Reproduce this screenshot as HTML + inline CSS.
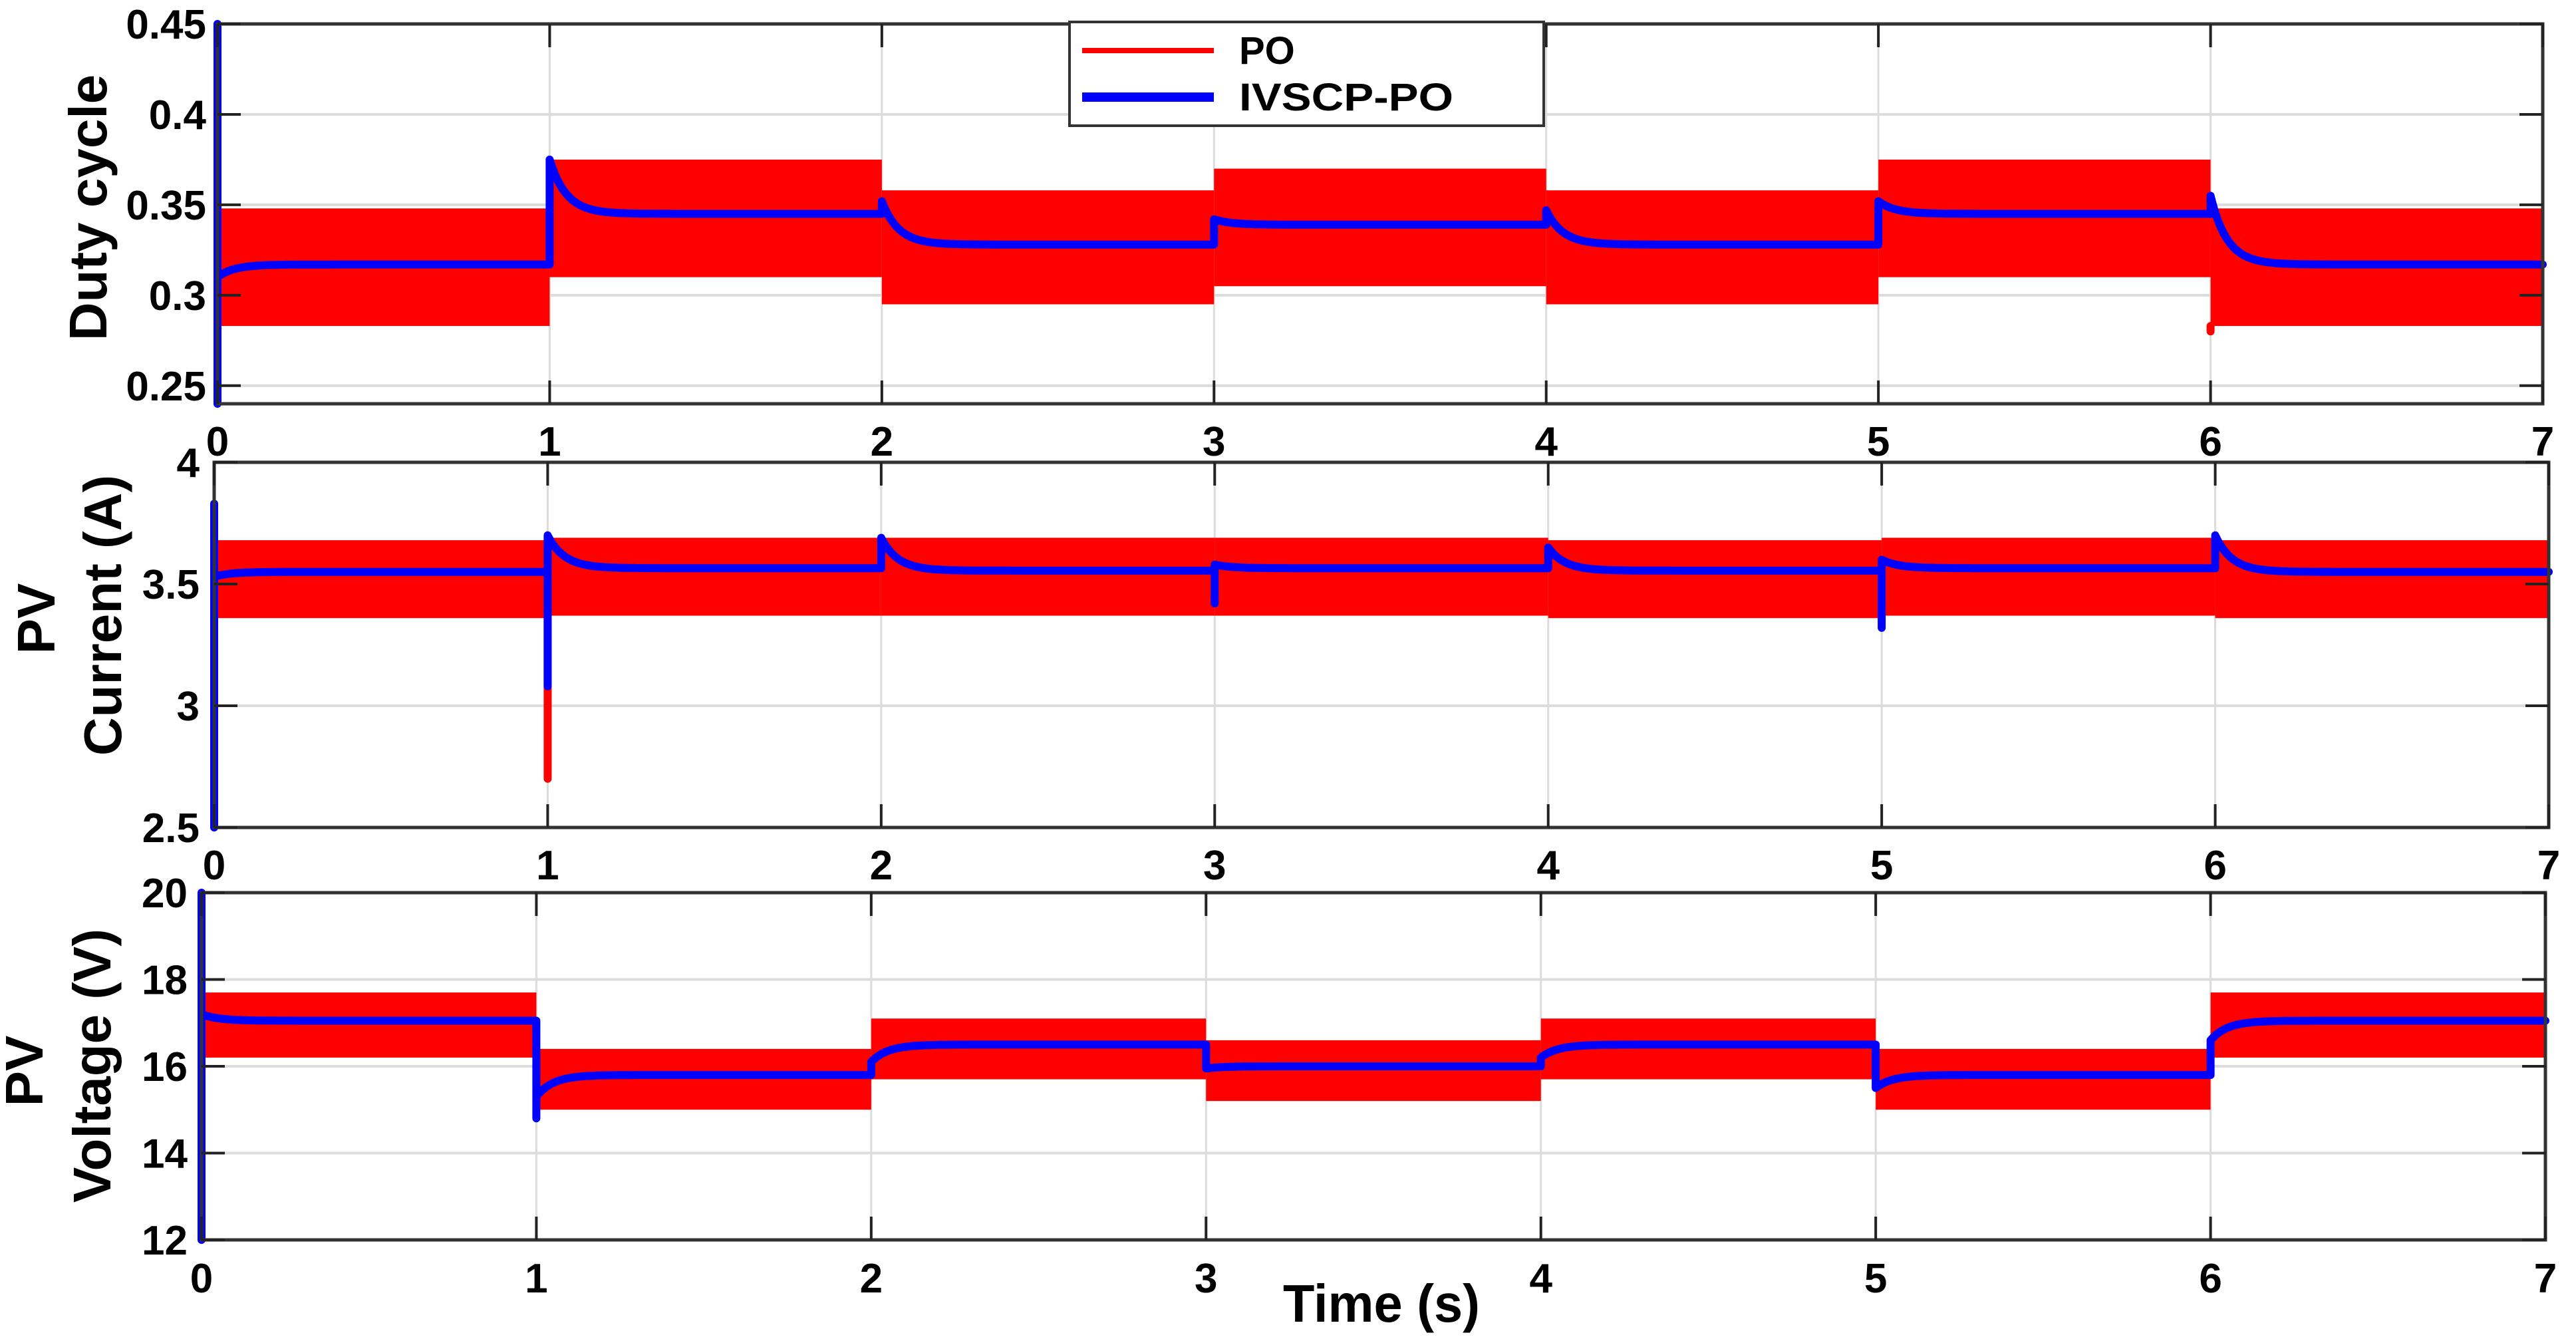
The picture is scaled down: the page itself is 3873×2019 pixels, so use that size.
<!DOCTYPE html>
<html><head><meta charset="utf-8"><style>
html,body{margin:0;padding:0;background:#fff;}
svg{display:block;font-family:"Liberation Sans",Arial,sans-serif;font-weight:bold;}
</style></head><body>
<svg id="fig" width="3873" height="2019" viewBox="0 0 3873 2019" xmlns="http://www.w3.org/2000/svg">
<rect width="3873" height="2019" fill="#fff"/>
</svg>
<script>
// ---- shared x data ----
const xTicks = [0,1,2,3,4,5,6,7];
const xTickLabels = ["0","1","2","3","4","5","6","7"];

// ---- Duty cycle panel ----
const dutyTicks = [0.25,0.3,0.35,0.4,0.45];
const dutyTickLabels = ["0.25","0.3","0.35","0.4","0.45"];
const dutyRedLo = [0.283,0.310,0.295,0.305,0.295,0.310,0.283];
const dutyRedHi = [0.348,0.375,0.358,0.370,0.358,0.375,0.348];
const dutySteady = [0.317,0.345,0.328,0.339,0.328,0.345,0.317];
const dutyStart  = [0.310,0.375,0.352,0.342,0.347,0.352,0.355];
const dutySpikeA = [0.45,null,null,null,null,null,null];
const dutySpikeB = [0.24,null,null,null,null,null,null];
const dutyRedSpike = [null,null,null,null,null,null,0.280];

// ---- PV current panel ----
const curTicks = [2.5,3,3.5,4];
const curTickLabels = ["2.5","3","3.5","4"];
const curRedLo = [3.36,3.37,3.37,3.37,3.36,3.37,3.36];
const curRedHi = [3.68,3.69,3.69,3.69,3.68,3.69,3.68];
const curSteady = [3.55,3.565,3.555,3.565,3.555,3.565,3.55];
const curStart  = [3.53,3.70,3.69,3.58,3.65,3.60,3.70];
const curSpikeA = [3.83,3.08,null,3.42,null,3.32,null];
const curSpikeB = [2.5,null,null,null,null,null,null];
const curRedSpike = [null,2.70,null,null,null,null,null];

// ---- PV voltage panel ----
const voltTicks = [12,14,16,18,20];
const voltTickLabels = ["12","14","16","18","20"];
const voltRedLo = [16.2,15.0,15.7,15.2,15.7,15.0,16.2];
const voltRedHi = [17.7,16.4,17.1,16.6,17.1,16.4,17.7];
const voltSteady = [17.05,15.8,16.5,16.0,16.5,15.8,17.05];
const voltStart  = [17.2,15.3,16.1,15.95,16.2,15.5,16.6];
const voltSpikeA = [20,14.8,null,null,null,null,null];
const voltSpikeB = [12,null,null,null,null,null,null];
const voltRedSpike = [null,null,null,null,null,null,null];

const NS = "http://www.w3.org/2000/svg";
const svg = document.getElementById('fig');
function mk(tag, attrs, parent){
  const e = document.createElementNS(NS, tag);
  for (const k in attrs) e.setAttribute(k, attrs[k]);
  (parent||svg).appendChild(e);
  return e;
}

function panel(cfg){
  const g = mk('g', {});
  
  
  const X = t => cfg.x0 + (t - 0) / 7 * (cfg.x1 - cfg.x0);
  const Y = v => cfg.y1 - (v - cfg.ymin) / (cfg.ymax - cfg.ymin) * (cfg.y1 - cfg.y0);
  // grid
  xTicks.forEach(t => {
    const l = mk('line', {x1:X(t), x2:X(t), y1:cfg.y0, y2:cfg.y1, stroke:'#dcdcdc', 'stroke-width':3}, g);
    
    
  });
  cfg.yt.forEach(v => {
    const l = mk('line', {x1:cfg.x0, x2:cfg.x1, y1:Y(v), y2:Y(v), stroke:'#dcdcdc', 'stroke-width':4}, g);
    
    
  });
  // red bands
  for (let k=0;k<7;k++){
    const r = mk('rect', {x:X(k), y:Y(cfg.hi[k]), width:X(k+1)-X(k), height:Y(cfg.lo[k])-Y(cfg.hi[k]), fill:'#ff0000'}, g);
    
    
    if (cfg.redSpike[k] !== null){
      const s = mk('line', {x1:X(k), x2:X(k), y1:Y(cfg.lo[k]), y2:Y(cfg.redSpike[k]), stroke:'#ff0000', 'stroke-width':12, 'stroke-linecap':'round'}, g);
      
      
    }
  }
  // blue line
  let d = '';
  const tau = 0.05, N = 60;
  for (let k=0;k<7;k++){
    const t0 = k;
    const pts = [];
    if (cfg.spA[k] !== null) pts.push([t0, cfg.spA[k]]);
    if (cfg.spB[k] !== null) pts.push([t0, cfg.spB[k]]);
    for (let i=0;i<=N;i++){
      const dt = i===N ? 1 : (i/N)*0.4;
      const v = cfg.steady[k] + (cfg.start[k]-cfg.steady[k]) * Math.exp(-dt/tau);
      pts.push([t0 + (i===N ? 1 : dt), v]);
    }
    pts.forEach((p,i) => { d += ((k===0&&i===0)?'M':'L') + X(p[0]).toFixed(1) + ',' + Y(p[1]).toFixed(1) + ' '; });
  }
  const bl = mk('path', {d:d, fill:'none', stroke:'#0000ff', 'stroke-width':12, 'stroke-linejoin':'round', 'stroke-linecap':'round'}, g);
  
  
  // axes box
  const box = mk('rect', {x:cfg.x0, y:cfg.y0, width:cfg.x1-cfg.x0, height:cfg.y1-cfg.y0, fill:'none', stroke:'#333', 'stroke-width':5}, g);
  
  
  // ticks
  xTicks.forEach((t,i) => {
    mk('line', {x1:X(t), x2:X(t), y1:cfg.y1, y2:cfg.y1-35, stroke:'#222', 'stroke-width':4}, g);
    mk('line', {x1:X(t), x2:X(t), y1:cfg.y0, y2:cfg.y0+35, stroke:'#222', 'stroke-width':4}, g);
    const tx = mk('text', {x:X(t), y:cfg.xlabY, 'font-size':62, 'text-anchor':'middle', fill:'#000'}, g);
    tx.textContent = xTickLabels[i];
    
    
  });
  cfg.yt.forEach((v,i) => {
    mk('line', {x1:cfg.x0, x2:cfg.x0+35, y1:Y(v), y2:Y(v), stroke:'#222', 'stroke-width':4}, g);
    mk('line', {x1:cfg.x1, x2:cfg.x1-35, y1:Y(v), y2:Y(v), stroke:'#222', 'stroke-width':4}, g);
    const ty = mk('text', {x:cfg.ylabX, y:Y(v)+22, 'font-size':62, 'text-anchor':'end', fill:'#000'}, g);
    ty.textContent = cfg.ytl[i];
    
    
  });
}

panel({name:'duty-cycle-panel', x0:327, x1:3823, y0:36, y1:607, ymin:0.24, ymax:0.45,
  yt:dutyTicks, ytl:dutyTickLabels, lo:dutyRedLo, hi:dutyRedHi, steady:dutySteady, start:dutyStart,
  spA:dutySpikeA, spB:dutySpikeB, redSpike:dutyRedSpike, xlabY:685, ylabX:310});
panel({name:'pv-current-panel', x0:322, x1:3832, y0:695, y1:1244, ymin:2.5, ymax:4,
  yt:curTicks, ytl:curTickLabels, lo:curRedLo, hi:curRedHi, steady:curSteady, start:curStart,
  spA:curSpikeA, spB:curSpikeB, redSpike:curRedSpike, xlabY:1322, ylabX:300});
panel({name:'pv-voltage-panel', x0:303, x1:3827, y0:1342, y1:1864, ymin:12, ymax:20,
  yt:voltTicks, ytl:voltTickLabels, lo:voltRedLo, hi:voltRedHi, steady:voltSteady, start:voltStart,
  spA:voltSpikeA, spB:voltSpikeB, redSpike:voltRedSpike, xlabY:1943, ylabX:282});
</script>
<svg style="position:absolute;left:0;top:0" width="3873" height="2019" viewBox="0 0 3873 2019" xmlns="http://www.w3.org/2000/svg" font-family="Liberation Sans, Arial, sans-serif" font-weight="bold">
  <text transform="translate(160,312) rotate(-90)" text-anchor="middle" font-size="80">Duty cycle</text>
  <text transform="translate(82,930) rotate(-90)" text-anchor="middle" font-size="80">PV</text>
  <text transform="translate(182,925) rotate(-90)" text-anchor="middle" font-size="80">Current (A)</text>
  <text transform="translate(64,1610) rotate(-90)" text-anchor="middle" font-size="80">PV</text>
  <text transform="translate(166,1602) rotate(-90)" text-anchor="middle" font-size="80">Voltage (V)</text>
  <text x="1929" y="1987" font-size="80" textLength="296" lengthAdjust="spacingAndGlyphs">Time (s)</text>
  <g>
    <rect x="1608" y="33" width="713" height="156" fill="#fff" stroke="#333" stroke-width="4"/>
    <line x1="1627" x2="1825" y1="76" y2="76" stroke="#ff0000" stroke-width="8"/>
    <text x="1863" y="96" font-size="58">PO</text>
    <line x1="1627" x2="1825" y1="146" y2="146" stroke="#0000ff" stroke-width="14"/>
    <text x="1863" y="166" font-size="58" textLength="322" lengthAdjust="spacingAndGlyphs">IVSCP-PO</text>
  </g>
</svg>
</body></html>
